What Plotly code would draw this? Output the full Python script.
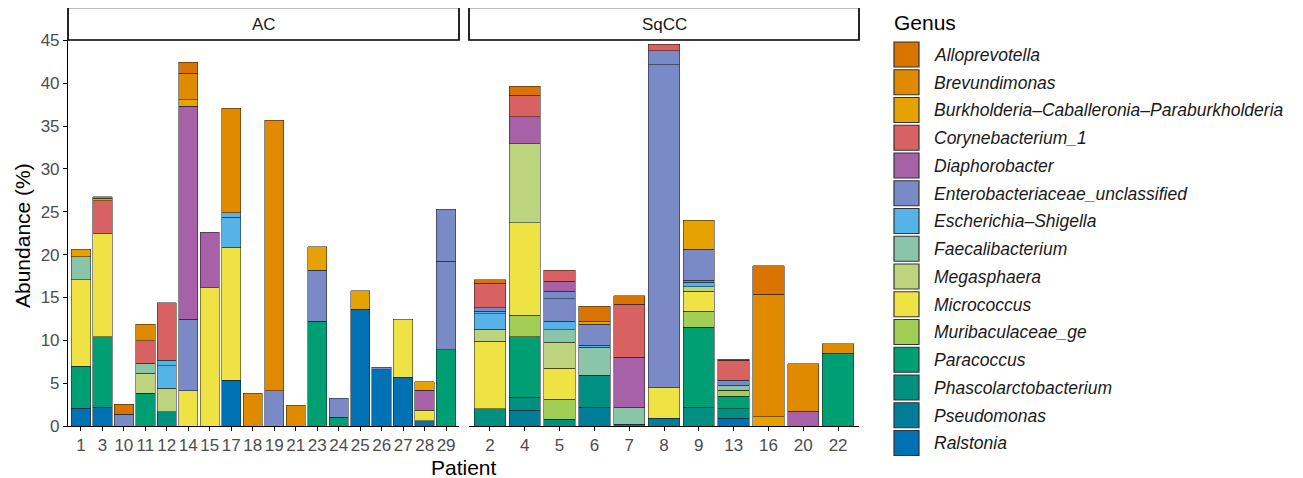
import plotly.graph_objects as go

# ---------------- data ----------------
AC_PATIENTS = ["1", "3", "10", "11", "12", "14", "15", "17", "18", "19",
               "21", "23", "24", "25", "26", "27", "28", "29"]
SQCC_PATIENTS = ["2", "4", "5", "6", "7", "8", "9", "13", "16", "20", "22"]
PANELS = ["AC", "SqCC"]

# Abundance (%) per genus; first 18 values = AC patients, last 11 = SqCC patients
RALSTONIA = [2.05, 2.2, 0, 0, 0, 0, 0, 5.35, 0, 0, 0, 0, 0, 13.6, 6.55, 5.7, 0.6, 0,
             0, 0, 0, 0, 0, 0, 0, 0.9, 0, 0, 0]
PSEUDOMONAS = [0, 0, 0, 0, 0, 0, 0, 0, 0, 0, 0, 0, 0, 0, 0, 0, 0, 0,
               0, 1.85, 0, 2.2, 0.2, 0.9, 0, 0, 0, 0, 0]
PHASCOLARCTOBACTERIUM = [0, 0, 0, 0, 1.65, 0, 0, 0, 0, 0, 0, 0, 0, 0, 0, 0, 0, 0,
                         2.0, 1.5, 0.8, 3.75, 0, 0, 2.2, 1.1, 0, 0, 0]
PARACOCCUS = [4.95, 8.2, 0, 3.8, 0, 0, 0, 0, 0, 0, 0, 12.2, 1.05, 0, 0, 0, 0, 8.9,
              0, 7.05, 0, 0, 0, 0, 9.35, 1.5, 0, 0, 8.5]
MURIBACULACEAE = [0, 0, 0, 0, 0, 0, 0, 0, 0, 0, 0, 0, 0, 0, 0, 0, 0, 0,
                  0, 2.55, 2.35, 0, 0, 0, 1.85, 0.6, 0, 0, 0]
MICROCOCCUS = [10.05, 12.05, 0, 0, 0, 4.1, 16.15, 15.5, 0, 0, 0, 0, 0, 0, 0, 6.75, 1.25, 0,
               7.9, 10.8, 3.6, 0, 0, 3.6, 2.3, 0, 0, 0, 0]
MEGASPHAERA = [0, 0, 0, 2.35, 2.75, 0, 0, 0, 0, 0, 0, 0, 0, 0, 0, 0, 0, 0,
               1.4, 9.2, 3.0, 0, 0, 0, 0.55, 0.1, 0, 0, 0]
FAECALIBACTERIUM = [2.7, 0, 0, 1.15, 0, 0, 0, 0, 0, 0, 0, 0, 0, 0, 0, 0, 0, 0,
                    0, 0, 1.5, 3.25, 2.0, 0, 0, 0.55, 0, 0, 0]
ESCHERICHIA = [0, 0, 0, 0, 2.65, 0, 0, 3.5, 0, 0, 0, 0, 0, 0, 0, 0, 0, 0,
               1.8, 0, 0.95, 0.25, 0, 0, 0.55, 0, 0, 0, 0]
ESCHERICHIA_OTU2 = [0, 0, 0, 0, 0.6, 0, 0, 0.55, 0, 0, 0, 0, 0, 0, 0, 0, 0, 0,
                    0.3, 0, 0, 0, 0, 0, 0, 0, 0, 0, 0]
ENTEROBACTERIACEAE = [0, 0, 1.35, 0, 0, 8.35, 0, 0, 0, 4.1, 0, 6.0, 2.2, 0, 0.3, 0, 0, 10.35,
                      0.4, 0, 2.65, 2.45, 0, 37.65, 0.2, 0.6, 0, 0, 0]
ENTEROBACTERIACEAE_OTU2 = [0, 0, 0, 0, 0, 0, 0, 0, 0, 0, 0, 0, 0, 0, 0, 0, 0, 6.05,
                           0, 0, 0.85, 0, 0, 1.65, 3.65, 0, 0, 0, 0]
DIAPHOROBACTER = [0, 0, 0, 0, 0, 24.85, 6.45, 0, 0, 0, 0, 0, 0, 0, 0, 0, 2.35, 0,
                  0, 3.15, 1.2, 0, 5.85, 0, 0, 0, 0, 1.75, 0]
CORYNEBACTERIUM = [0, 3.85, 0, 2.65, 6.75, 0, 0, 0, 0, 0, 0, 0, 0, 0, 0, 0, 0, 0,
                   2.85, 2.5, 1.3, 0, 6.15, 0.75, 0, 2.3, 0, 0, 0]
BURKHOLDERIA = [0.9, 0.3, 0, 0, 0, 0.75, 0, 0, 0, 0, 0, 2.75, 0, 2.2, 0, 0, 0.95, 0,
                0, 0, 0, 0.3, 0, 0, 3.35, 0, 1.1, 0, 0]
BREVUNDIMONAS = [0, 0, 0, 1.9, 0, 3.1, 0, 12.2, 3.8, 31.6, 2.4, 0, 0, 0, 0, 0, 0, 0,
                 0, 0, 0, 0, 0, 0, 0, 0, 14.3, 5.5, 1.1]
ALLOPREVOTELLA = [0, 0.15, 1.2, 0, 0, 1.3, 0, 0, 0, 0, 0, 0, 0, 0, 0, 0, 0, 0,
                  0.4, 1.05, 0, 1.75, 1.0, 0, 0, 0.15, 3.3, 0, 0]

GENUS_LABELS = ["Alloprevotella", "Brevundimonas", "Burkholderia\u2013Caballeronia\u2013Paraburkholderia",
                "Corynebacterium_1", "Diaphorobacter", "Enterobacteriaceae_unclassified",
                "Escherichia\u2013Shigella", "Faecalibacterium", "Megasphaera", "Micrococcus",
                "Muribaculaceae_ge", "Paracoccus", "Phascolarctobacterium", "Pseudomonas", "Ralstonia"]
GENUS_COLORS = ["#D97400", "#E08A00", "#E6A200", "#D86262", "#A661A9", "#7A8AC7",
                "#56B3E8", "#8AC5A9", "#BDD47E", "#EFE245", "#A1CF55", "#009E73",
                "#008F80", "#007E98", "#0071B3"]

# stacking order bottom -> top (genus index into GENUS_LABELS, values)
STACK = [
    (14, RALSTONIA), (13, PSEUDOMONAS), (12, PHASCOLARCTOBACTERIUM), (11, PARACOCCUS),
    (10, MURIBACULACEAE), (9, MICROCOCCUS), (8, MEGASPHAERA), (7, FAECALIBACTERIUM),
    (6, ESCHERICHIA), (6, ESCHERICHIA_OTU2), (5, ENTEROBACTERIACEAE),
    (5, ENTEROBACTERIACEAE_OTU2), (4, DIAPHOROBACTER), (3, CORYNEBACTERIUM),
    (2, BURKHOLDERIA), (1, BREVUNDIMONAS), (0, ALLOPREVOTELLA),
]

# ---------------- figure ----------------
OFF = 8                                 # page body margin of the browser
W, H = 1303 - OFF, 478 - OFF
L, R, T, B = 68, 859, 40, 426           # plotting region in screen pixels
PW, PH = R - L, B - T
FONT = "Liberation Sans, Arial, Helvetica, sans-serif"
N_AC = len(AC_PATIENTS)

fig = go.Figure()
for gi, vals in STACK:
    col = GENUS_COLORS[gi]
    for pats, sl, xa, ya in ((AC_PATIENTS, slice(0, N_AC), "x", "y"),
                             (SQCC_PATIENTS, slice(N_AC, None), "x2", "y2")):
        y = [v if v else None for v in vals[sl]]
        fig.add_trace(go.Bar(
            x=pats, y=y, xaxis=xa, yaxis=ya,
            name=GENUS_LABELS[gi], showlegend=False,
            marker=dict(color=col, line=dict(color="rgba(25,25,25,0.85)", width=0.6)),
        ))


def px2x(px):
    return (px - L) / PW


def px2y(py):
    return (B - py) / PH


ac_right = px2x(459)
sq_left = px2x(469)

axis_common = dict(showgrid=False, zeroline=False, showline=True, linecolor="black",
                   linewidth=1.1, ticks="outside", ticklen=4, tickcolor="black", tickwidth=1,
                   tickfont=dict(family=FONT, size=17, color="#4D4D4D"))
fig.update_layout(
    width=W, height=H,
    margin=dict(l=L - OFF, r=1303 - R, t=T - OFF, b=478 - B),
    paper_bgcolor="white", plot_bgcolor="white",
    barmode="stack", bargap=0.1,
    font=dict(family=FONT),
    xaxis=dict(domain=[0, ac_right], type="category", categoryorder="array",
               categoryarray=AC_PATIENTS, range=[-0.6, N_AC - 0.4], **axis_common),
    xaxis2=dict(domain=[sq_left, 1], type="category", categoryorder="array",
                categoryarray=SQCC_PATIENTS, range=[-0.6, len(SQCC_PATIENTS) - 0.4],
                anchor="y2", **axis_common),
    yaxis=dict(range=[0, 45.05], tickvals=[0, 5, 10, 15, 20, 25, 30, 35, 40, 45],
               **axis_common),
    yaxis2=dict(range=[0, 45.05], anchor="x2", showticklabels=False, showline=False,
                showgrid=False, zeroline=False, ticks=""),
    showlegend=False,
)

shapes = []
annotations = []
# facet strips
for x0, x1, label in ((0, ac_right, PANELS[0]), (sq_left, 1, PANELS[1])):
    shapes.append(dict(type="rect", xref="paper", yref="paper", x0=x0, x1=x1,
                       y0=1.0, y1=px2y(7.5), line=dict(color="black", width=1.7),
                       fillcolor="white"))
    annotations.append(dict(text=label, xref="paper", yref="paper", x=(x0 + x1) / 2,
                            y=px2y(24), showarrow=False, xanchor="center", yanchor="middle",
                            font=dict(family=FONT, size=17, color="#1A1A1A")))

# axis titles
annotations.append(dict(text="Patient", xref="paper", yref="paper", x=px2x(464), y=px2y(467),
                        showarrow=False, xanchor="center", yanchor="middle",
                        font=dict(family=FONT, size=21, color="black")))
annotations.append(dict(text="Abundance (%)", xref="paper", yref="paper", x=px2x(22),
                        y=px2y(236), showarrow=False, textangle=-90, xanchor="center",
                        yanchor="middle", font=dict(family=FONT, size=21, color="black")))

# legend (manual, to reproduce large key boxes)
annotations.append(dict(text="Genus", xref="paper", yref="paper", x=px2x(892), y=px2y(22),
                        showarrow=False, xanchor="left", yanchor="middle",
                        font=dict(family=FONT, size=21, color="black")))
for i, (lab, col) in enumerate(zip(GENUS_LABELS, GENUS_COLORS)):
    top = 42 + 27.75 * i
    shapes.append(dict(type="rect", xref="paper", yref="paper",
                       x0=px2x(894), x1=px2x(919), y0=px2y(top + 25), y1=px2y(top),
                       fillcolor=col, line=dict(color="#333333", width=1.2)))
    annotations.append(dict(text="<i>" + lab + "</i>", xref="paper", yref="paper",
                            x=px2x(932), y=px2y(top + 12.8), showarrow=False,
                            xanchor="left", yanchor="middle",
                            font=dict(family=FONT, size=17.5, color="#1A1A1A")))

fig.update_layout(shapes=shapes, annotations=annotations)
fig.write_html("out.html")
